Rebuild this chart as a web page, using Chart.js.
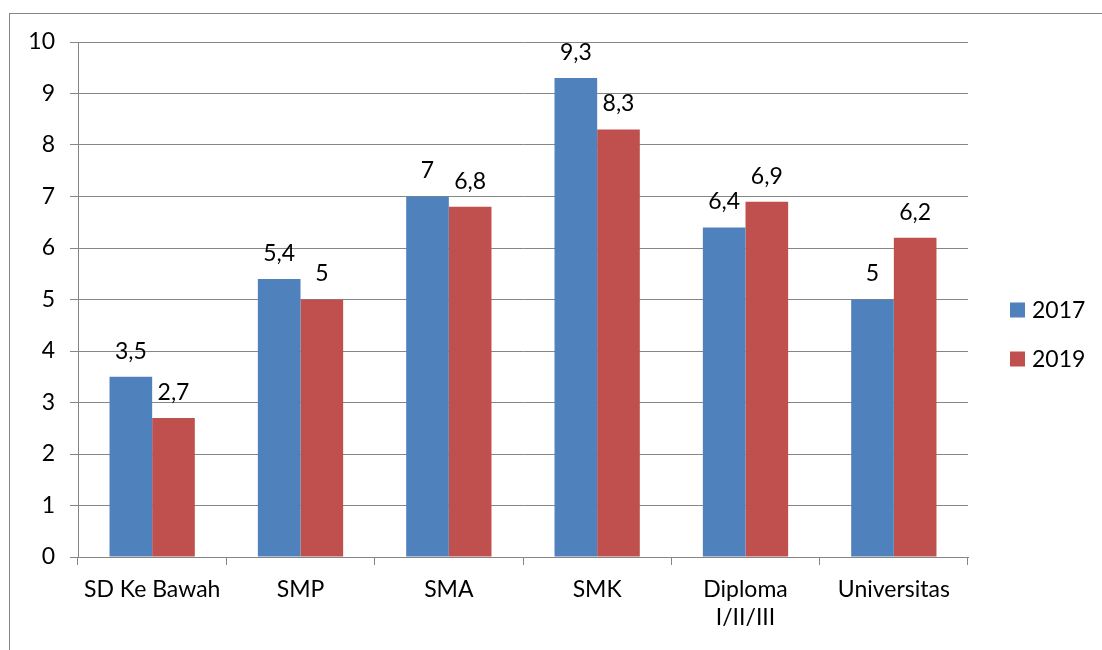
<!DOCTYPE html>
<html>
<head>
<meta charset="utf-8">
<script src="https://cdn.jsdelivr.net/npm/chart.js@4/dist/chart.umd.min.js"></script>
<style>
  html, body { margin: 0; padding: 0; background: #fff; }
  #wrap { width: 1102px; height: 650px; position: relative; }
</style>
</head>
<body>
<div id="wrap"><canvas id="chart"></canvas></div>
<script>
// kategori pendidikan
const categories = ['SD Ke Bawah', 'SMP', 'SMA', 'SMK', ['Diploma', 'I/II/III'], 'Universitas'];
const seriesNames = ['2017', '2019'];
const values2017 = [3.5, 5.4, 7, 9.3, 6.4, 5];
const values2019 = [2.7, 5, 6.8, 8.3, 6.9, 6.2];
const yTicks = [0, 1, 2, 3, 4, 5, 6, 7, 8, 9, 10];

const FONT = 'Lato, "Liberation Sans", sans-serif';
const FSIZE = 23;
const GRID = '#868686';

// rahmen luar + legenda
const frame = {
    id: 'frame',
    beforeDraw(chart) {
        const c = chart.ctx;
        c.save();
        c.fillStyle = '#fff';
        c.fillRect(0, 0, chart.width, chart.height);
        c.strokeStyle = GRID;
        c.lineWidth = 1;
        c.strokeRect(9.5, 13.5, 1200, 1000);
        c.restore();
    },
    afterDraw(chart) {
        const c = chart.ctx;
        c.save();
        c.font = FSIZE + 'px ' + FONT;
        c.textBaseline = 'middle';
        chart.data.datasets.forEach((ds, i) => {
            const y = 310 + i * 49;
            c.fillStyle = ds.backgroundColor;
            c.fillRect(1010, y - 7.5, 15, 15);
            c.fillStyle = '#000';
            c.fillText(ds.label, 1032, y + 1);
        });
        c.restore();
    }
};

// nilai di atas batang, pakai koma
const valueLabels = {
    id: 'valueLabels',
    afterDatasetsDraw(chart) {
        const c = chart.ctx;
        c.save();
        c.font = FSIZE + 'px ' + FONT;
        c.fillStyle = '#000';
        c.textAlign = 'center';
        c.textBaseline = 'bottom';
        chart.data.datasets.forEach((ds, i) => {
            chart.getDatasetMeta(i).data.forEach((bar, j) => {
                c.fillText(String(ds.data[j]).replace('.', ','), bar.x, bar.y - 14);
            });
        });
        c.restore();
    }
};

new Chart(document.getElementById('chart'), {
    type: 'bar',
    data: {
        labels: categories,
        datasets: [
            { label: seriesNames[0], data: values2017, backgroundColor: '#4F81BD' },
            { label: seriesNames[1], data: values2019, backgroundColor: '#C0504D' }
        ]
    },
    options: {
        responsive: true,
        maintainAspectRatio: false,
        animation: false,
        layout: { padding: { left: 0, top: 42, right: 134, bottom: 0 } },
        categoryPercentage: 0.575,
        barPercentage: 1,
        plugins: { legend: { display: false }, tooltip: { enabled: false } },
        scales: {
            x: {
                offset: true,
                grid: { offset: true, drawOnChartArea: false, drawTicks: true, tickLength: 8, color: GRID },
                border: { color: GRID },
                ticks: { color: '#000', font: { family: FONT, size: FSIZE }, padding: 11, maxRotation: 0, autoSkip: false },
                afterFit(s) { s.height = 93; }
            },
            y: {
                min: 0, max: 10,
                afterBuildTicks(s) { s.ticks = yTicks.map(v => ({ value: v })); },
                grid: { color: GRID, tickLength: 8 },
                border: { color: GRID },
                ticks: { color: '#000', font: { family: FONT, size: FSIZE }, padding: 15 },
                afterFit(s) { s.width = 78; }
            }
        }
    },
    plugins: [frame, valueLabels]
});
</script>
</body>
</html>
